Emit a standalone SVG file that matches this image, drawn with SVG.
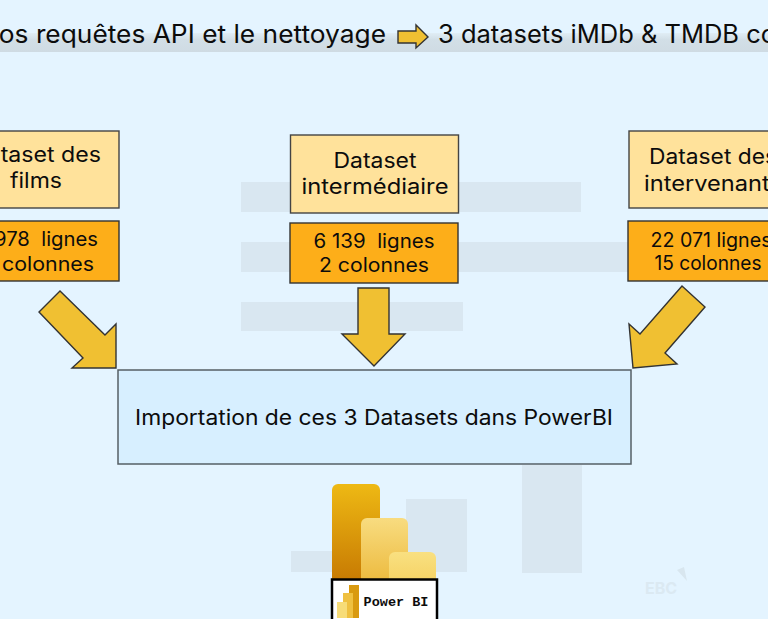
<svg xmlns="http://www.w3.org/2000/svg" width="768" height="619" viewBox="0 0 768 619">
<defs>
<linearGradient id="band" x1="0" y1="0" x2="0" y2="1"><stop offset="0" stop-color="#e0edf5"/><stop offset="0.35" stop-color="#d2dfe7"/><stop offset="1" stop-color="#cfdbe3"/></linearGradient>
<linearGradient id="pb1" x1="0" y1="0" x2="0" y2="1"><stop offset="0" stop-color="#eeb914"/><stop offset="1" stop-color="#c67802"/></linearGradient>
<linearGradient id="pb2" x1="0" y1="0" x2="0" y2="1"><stop offset="0" stop-color="#f8dc80"/><stop offset="1" stop-color="#ecb93c"/></linearGradient>
<linearGradient id="pb3" x1="0" y1="0" x2="0" y2="1"><stop offset="0" stop-color="#f9e081"/><stop offset="1" stop-color="#f5d263"/></linearGradient>
</defs>
<style>
text{font-family:"Inter","Noto Sans","Liberation Sans",sans-serif;fill:#0c0c0c;text-anchor:middle}
.head{font-size:25px;text-anchor:start}
.name{font-size:21px}
.count{font-size:19.5px;white-space:pre}
.light{fill:#ffe29b;stroke:#444;stroke-width:1.4}
.dark{fill:#fdae19;stroke:#333;stroke-width:1.4}
.arrow{fill:#f0c032;stroke:#333;stroke-width:1.4;stroke-linejoin:miter}
.ghost{fill:#d9e7f1}
</style>
<rect width="768" height="619" fill="#e4f4ff"/>
<g id="background">
<rect class="ghost" x="241" y="182" width="340" height="30"/>
<rect class="ghost" x="241" y="242" width="387" height="30"/>
<rect class="ghost" x="241" y="302" width="222" height="29"/>
<rect class="ghost" x="291" y="551" width="176" height="21"/>
<rect class="ghost" x="406" y="499" width="61" height="73"/>
<rect class="ghost" x="522" y="465" width="60" height="108"/>
<text x="661" y="594" style="font-size:16px;fill:#dbe9f2;font-weight:700">EBC</text>
<path d="M677 570L684 567L687 581Z" fill="#d8e6ef"/>
</g>
<g id="header">
<rect x="0" y="33" width="768" height="19" fill="url(#band)"/>
<text class="head" x="-21" y="43" textLength="407" lengthAdjust="spacingAndGlyphs">Nos requêtes API et le nettoyage</text>
<path class="arrow" d="M398 31H416V25L428 37L416 48V43H398Z"/>
<text class="head" x="438" y="43" textLength="338" lengthAdjust="spacingAndGlyphs">3 datasets iMDb &amp; TMDB co</text>
</g>
<g id="connectors">
<path class="arrow" d="M60 291L39 312L83 358L72 368H116V324L105 335Z"/>
<path class="arrow" d="M358 288H389V334H405L374 366L342 334H358Z"/>
<path class="arrow" d="M682 286L705 307L665 353L677 364L633 368L629 324L640 334Z"/>
</g>
<g id="node-films">
<rect class="light" x="-49" y="131" width="168" height="77"/>
<text class="name" x="36" y="162" textLength="130" lengthAdjust="spacingAndGlyphs">Dataset des</text>
<text class="name" x="36" y="188" textLength="52" lengthAdjust="spacingAndGlyphs">films</text>
</g>
<g id="count-films">
<rect class="dark" x="-49" y="221" width="168" height="60"/>
<text class="count" x="46" y="246" textLength="104" lengthAdjust="spacingAndGlyphs">978  lignes</text>
<text class="count" x="48" y="271" textLength="92" lengthAdjust="spacingAndGlyphs">colonnes</text>
</g>
<g id="node-intermediaire">
<rect class="light" x="290.500" y="135" width="168" height="78"/>
<text class="name" x="375" y="168" textLength="83" lengthAdjust="spacingAndGlyphs">Dataset</text>
<text class="name" x="375" y="194" textLength="147" lengthAdjust="spacingAndGlyphs">intermédiaire</text>
</g>
<g id="count-intermediaire">
<rect class="dark" x="290" y="223" width="168" height="60"/>
<text class="count" x="374" y="248" textLength="121" lengthAdjust="spacingAndGlyphs">6 139  lignes</text>
<text class="count" x="374" y="272" textLength="110" lengthAdjust="spacingAndGlyphs">2 colonnes</text>
</g>
<g id="node-intervenants">
<rect class="light" x="629" y="131" width="168" height="77"/>
<text class="name" x="713" y="164" textLength="128" lengthAdjust="spacingAndGlyphs">Dataset des</text>
<text class="name" x="713" y="191" textLength="138" lengthAdjust="spacingAndGlyphs">intervenants</text>
</g>
<g id="count-intervenants">
<rect class="dark" x="628" y="221" width="168" height="60"/>
<text class="count" x="711" y="247" textLength="121" lengthAdjust="spacingAndGlyphs">22 071 lignes</text>
<text class="count" x="708" y="270" textLength="107" lengthAdjust="spacingAndGlyphs">15 colonnes</text>
</g>
<g id="node-import">
<rect x="118" y="370" width="513" height="94" fill="#d7efff" stroke="#555f66" stroke-width="1.5"/>
<text x="374" y="425" style="font-size:21px" textLength="478" lengthAdjust="spacingAndGlyphs">Importation de ces 3 Datasets dans PowerBI</text>
</g>
<g id="node-powerbi">
<rect x="332" y="484" width="48" height="100" rx="6" fill="url(#pb1)"/>
<rect x="361" y="518" width="47" height="66" rx="6" fill="url(#pb2)"/>
<rect x="389" y="552" width="47" height="32" rx="6" fill="url(#pb3)"/>
<rect x="332" y="579.500" width="105" height="46" fill="#fff" stroke="#000" stroke-width="2.500"/>
<rect x="349" y="585" width="10" height="33" fill="#d99a10"/>
<rect x="343" y="593" width="10" height="25" fill="#efc040"/>
<rect x="337" y="602" width="10" height="16" fill="#f7dc78"/>
<text x="396" y="606" style="font-family:'Liberation Mono',monospace;font-size:13.500px;font-weight:700">Power BI</text>
</g>
</svg>
